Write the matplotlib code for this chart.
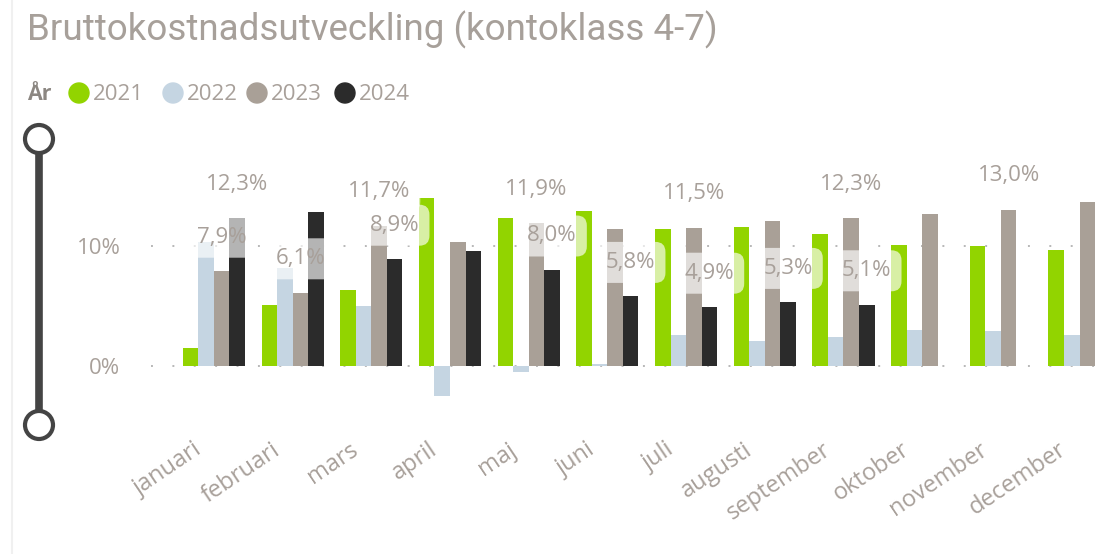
import numpy as np
import matplotlib
matplotlib.use('Agg')
import matplotlib.pyplot as plt
from matplotlib.patches import Circle
from matplotlib.transforms import ScaledTranslation

plt.rcParams['font.family'] = ['Open Sans', 'DejaVu Sans']

months = ['januari', 'februari', 'mars', 'april', 'maj', 'juni', 'juli',
          'augusti', 'september', 'oktober', 'november', 'december']
years = ['2021', '2022', '2023', '2024']
v2021 = [1.5, 5.1, 6.3, 14.0, 12.3, 12.9, 11.4, 11.6, 11.0, 10.1, 10.0, 9.7]
v2022 = [10.3, 8.2, 5.0, -2.5, -0.5, 0.2, 2.6, 2.1, 2.4, 3.0, 2.9, 2.6]
v2023 = [7.9, 6.1, 11.7, 10.3, 11.9, 11.4, 11.5, 12.1, 12.3, 12.7, 13.0, 13.7]
v2024 = [12.3, 12.8, 8.9, 9.6, 8.0, 5.8, 4.9, 5.3, 5.1, np.nan, np.nan, np.nan]
# which data labels the report actually showed (1 = shown)
show2023 = [1, 1, 1, 0, 1, 0, 1, 0, 1, 0, 1, 0]
show2024 = [1, 0, 1, 0, 1, 1, 1, 1, 1, 0, 0, 0]
yticks = [0, 10]

colors = ['#92d400', '#c5d5e2', '#a9a097', '#2b2b2b']
txt = '#a8a09a'

W, H = 1116, 554
fig = plt.figure(figsize=(W / 100, H / 100), dpi=100)

# background layer in pixel coords: title, legend, slider
bg = fig.add_axes([0, 0, 1, 1], zorder=0)
bg.set_xlim(0, W)
bg.set_ylim(H, 0)
bg.axis('off')

bg.plot([12, 12], [0, H], color='#f0f0f0', lw=1.5)
bg.text(27, 30, 'Bruttokostnadsutveckling (kontoklass 4-7)', fontsize=26.5,
        family=['Roboto', 'DejaVu Sans'], color='#a7a09a', va='center', ha='left')

bg.text(27, 94, 'År', fontsize=15.5, fontweight='bold', color='#8c8782', va='center')
leg_x = [79, 173, 257, 345]
for lx, c, yr in zip(leg_x, colors, years):
    bg.add_patch(Circle((lx, 93), 10, color=c))
    bg.text(lx + 14, 94, yr, fontsize=16, color=txt, va='center', ha='left')

bg.plot([39, 39], [140, 425], color='#444444', lw=5.5, solid_capstyle='butt', zorder=2)
for cy in [139, 425]:
    bg.add_patch(Circle((39, cy), 14, facecolor='white', edgecolor='#444444',
                        lw=3, zorder=3))

# chart
ax = fig.add_axes([151 / W, (H - 402) / H, 960 / W, 258 / H], zorder=1)
ax.patch.set_alpha(0)
x = np.arange(len(months))
w = 0.1975
series = [v2021, v2022, v2023, v2024]
for i, (vals, c) in enumerate(zip(series, colors)):
    ax.bar(x + (i - 1.5) * w, vals, width=w, color=c, zorder=2)

for vals, flags, i in [(v2023, show2023, 2), (v2024, show2024, 3)]:
    for m in range(len(months)):
        if flags[m] and not np.isnan(vals[m]):
            lab = f'{vals[m]:.1f}'.replace('.', ',') + '%'
            ax.annotate(lab, (x[m] + (i - 1.5) * w, vals[m]), xytext=(0, 34),
                        textcoords='offset pixels', ha='center', va='center',
                        fontsize=16, color=txt, zorder=3,
                        bbox=dict(boxstyle='round,pad=0.45', fc='white',
                                  ec='none', alpha=0.65))

ax.set_xlim(-0.8, 11.4)
ax.set_ylim(-3, 18.5)
ax.set_yticks(yticks)
ax.set_yticklabels([f'{t}%' for t in yticks], fontsize=16, color=txt)
ax.yaxis.grid(True, linestyle=(0, (1, 10)), color='#b8b8b8', lw=1.4)
ax.set_axisbelow(True)
for s in ax.spines.values():
    s.set_visible(False)
ax.tick_params(axis='y', length=0, pad=22)
ax.tick_params(axis='x', length=0, pad=33)
ax.set_xticks(x)
ax.set_xticklabels(months, fontsize=17, color=txt, rotation=34,
                   ha='right', va='center', rotation_mode='anchor')
shift = ScaledTranslation(-0.15, 0, fig.dpi_scale_trans)
for lab in ax.get_xticklabels():
    lab.set_transform(lab.get_transform() + shift)

fig.savefig('out.png', dpi=100)
